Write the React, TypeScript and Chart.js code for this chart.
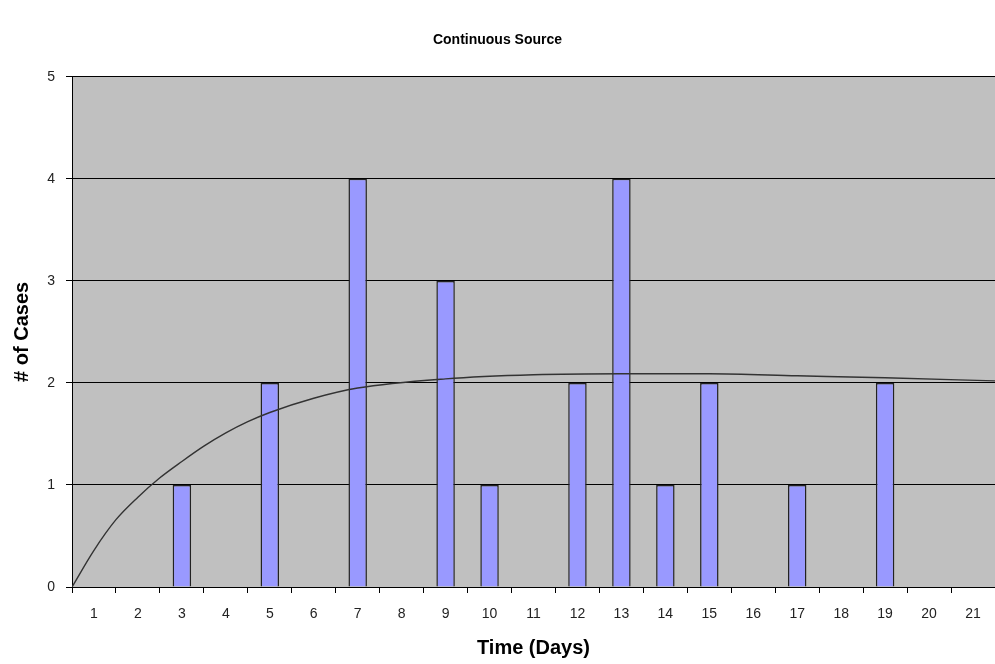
import React, { useEffect, useRef } from "react";
import { Chart, registerables } from "chart.js";

Chart.register(...registerables);

const days = ["1","2","3","4","5","6","7","8","9","10","11","12","13","14","15","16","17","18","19","20","21"];
const cases = [0,0,1,0,2,0,4,0,3,1,0,2,4,1,2,0,1,0,2,0,0];
// trend curve (x in day units, y in cases)
const curveX = [0.5, 1, 1.5, 2, 2.5, 3, 3.5, 4, 4.5, 5, 6, 7, 9, 11, 13, 15, 17, 19, 21.5];
const curveY = [0, 0.36, 0.66, 0.88, 1.07, 1.23, 1.38, 1.51, 1.62, 1.71, 1.85, 1.95, 2.04, 2.08, 2.09, 2.09, 2.07, 2.05, 2.02];

const FONT = "'Liberation Sans', Arial, Helvetica, sans-serif";

const bgPlugin = {
  id: "plotBg",
  beforeDraw(chart: any) {
    const { ctx, chartArea } = chart;
    if (!chartArea) return;
    ctx.save();
    ctx.fillStyle = "#C0C0C0";
    ctx.fillRect(chartArea.left, chartArea.top, chartArea.right - chartArea.left, chartArea.bottom - chartArea.top);
    ctx.restore();
  },
};

export default function App() {
  const ref = useRef<HTMLCanvasElement | null>(null);
  useEffect(() => {
    if (!ref.current) return;
    const chart = new Chart(ref.current, {
      type: "bar",
      data: {
        labels: days,
        datasets: [
          {
            type: "line",
            label: "Trend",
            data: curveX.map((x, i) => ({ x, y: curveY[i] })),
            xAxisID: "x2",
            yAxisID: "y",
            borderColor: "#333333",
            borderWidth: 1.4,
            pointRadius: 0,
            cubicInterpolationMode: "monotone",
            fill: false,
            order: 0,
          } as any,
          {
            type: "bar",
            label: "Cases",
            data: cases,
            xAxisID: "x",
            yAxisID: "y",
            backgroundColor: "#9999FF",
            borderColor: "#222222",
            borderWidth: 1.5,
            barPercentage: 0.42,
            categoryPercentage: 1,
            grouped: false,
            order: 1,
          } as any,
        ],
      },
      options: {
        responsive: false,
        animation: false,
        layout: { padding: { left: 0, right: 0, top: 0, bottom: 0 } },
        plugins: {
          legend: { display: false },
          tooltip: { enabled: false },
          title: {
            display: true,
            text: "Continuous Source",
            color: "#000",
            font: { family: "'Liberation Sans Narrow', 'Arial Narrow', " + FONT, size: 14, weight: "bold" },
            padding: { top: 32, bottom: 28 },
          },
        },
        scales: {
          x: {
            type: "category",
            position: "bottom",
            offset: true,
            grid: {
              display: true,
              offset: true,
              drawOnChartArea: false,
              drawTicks: true,
              tickLength: 6,
              color: "#000",
            },
            border: { display: true, color: "#000", width: 1 },
            ticks: { color: "#222", font: { family: FONT, size: 14 }, padding: 13, maxRotation: 0, autoSkip: false },
            title: {
              display: true,
              text: "Time (Days)",
              color: "#000",
              font: { family: FONT, size: 20, weight: "bold" },
              padding: { top: 0, bottom: 4 },
            },
            afterFit(scale: any) { scale.height = 77; },
          },
          x2: {
            type: "linear",
            position: "bottom",
            display: false,
            offset: false,
            grid: { offset: false },
            bounds: "data",
            min: 0.5,
            max: 21.5,
          } as any,
          y: {
            type: "linear",
            min: 0,
            max: 5,
            ticks: { stepSize: 1, color: "#222", font: { family: FONT, size: 14 }, padding: 11 },
            grid: { color: "#000", lineWidth: 1, tickLength: 6, drawTicks: true },
            border: { display: true, color: "#000", width: 1 },
            title: {
              display: true,
              text: "# of Cases",
              color: "#000",
              font: { family: FONT, size: 20, weight: "bold" },
              padding: { top: 10, bottom: 0 },
            },
            afterFit(scale: any) { scale.width = 72; },
          },
        },
      },
      plugins: [bgPlugin],
    });
    return () => chart.destroy();
  }, []);
  return (
    <div style={{ position: "absolute", left: 0, top: 0, width: 995, height: 664, background: "#fff" }}>
      <canvas ref={ref} width={995} height={664} />
    </div>
  );
}
